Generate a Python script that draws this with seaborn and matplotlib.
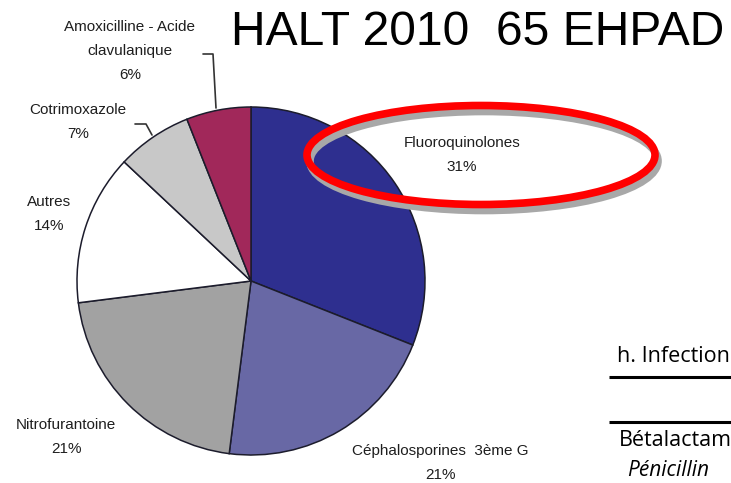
import matplotlib
matplotlib.use("Agg")
import matplotlib.pyplot as plt
from matplotlib.patches import Ellipse
import seaborn as sns

# ---- data ----
categories = ["Fluoroquinolones", "Céphalosporines  3ème G", "Nitrofurantoine",
              "Autres", "Cotrimoxazole", "Amoxicilline - Acide\nclavulanique"]
values = [31, 21, 21, 14, 7, 6]
colors = ["#2E2F8F", "#6868A5", "#A2A2A2", "#FFFFFF", "#C8C8C8", "#A1285A"]
title_text = "HALT 2010  65 EHPAD"
side_texts = ["h. Infection", "Bétalactam", "Pénicillin"]

# label positions in image pixels (x, y of first line centre)
label_pos = [(462, 143), (440, 451), (66, 425), (49, 202), (78, 110), (130, 27)]
LINE_STEP = 24
W, H = 731, 483


def Y(y):
    return H - y


sns.set_theme(style="white")
palette = sns.color_palette(colors)
plt.rcParams['font.family'] = ['Liberation Sans', 'DejaVu Sans']

fig = plt.figure(figsize=(W / 100, H / 100), dpi=100)
ax = fig.add_axes([0, 0, 1, 1])

# pie
wedges, _ = ax.pie(values, colors=palette, startangle=90, counterclock=False,
                   center=(251, Y(281)), radius=174, frame=True,
                   wedgeprops=dict(edgecolor="#1c1c2c", linewidth=1.1))
ax.set_xlim(0, W)
ax.set_ylim(0, H)
ax.set_aspect("equal")
ax.set_axis_off()

# labels
for name, v, (x, y) in zip(categories, values, label_pos):
    lines = name.split("\n") + [f"{v}%"]
    for i, ln in enumerate(lines):
        ax.text(x, Y(y + i * LINE_STEP), ln, ha="center", va="center",
                fontsize=11, color="#1e1e1e")

# leader lines
ax.plot([203, 213, 216], [Y(54), Y(54), Y(108)], color="#333333", lw=1.2)
ax.plot([135, 146, 152], [Y(124), Y(124), Y(135)], color="#333333", lw=1.2)

# title
ax.text(231, Y(45), title_text, ha="left", va="baseline", fontsize=34.6,
        color="black")

# red ellipse with shadow
shadow = Ellipse((484, Y(161)), 348, 99, fill=False, edgecolor="#a8a8a8",
                 lw=5.5, zorder=5)
ax.add_patch(shadow)
ell = Ellipse((481, Y(155)), 348, 99, fill=False, edgecolor="#FF0000",
              lw=5.5, zorder=6)
ax.add_patch(ell)

# right-side fragment of a table
ax.text(617, Y(362), side_texts[0], ha="left", va="baseline", fontsize=15.5,
        family="Open Sans", color="black")
ax.plot([609, W], [Y(377), Y(377)], color="black", lw=2.2, solid_capstyle="butt")
ax.plot([609, W], [Y(422), Y(422)], color="black", lw=2.2, solid_capstyle="butt")
ax.text(619, Y(446), side_texts[1], ha="left", va="baseline", fontsize=15.5,
        family="Open Sans", color="black")
ax.text(627, Y(476), side_texts[2], ha="left", va="baseline", fontsize=15,
        family="Open Sans", style="italic", color="black")

fig.savefig("out.png", dpi=100)
